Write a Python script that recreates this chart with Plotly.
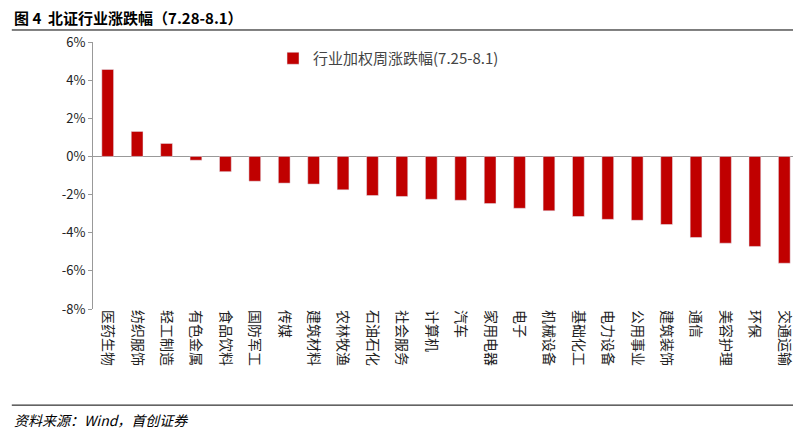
import plotly.graph_objs as go

# 行业周涨跌幅 (%)
industries = ['医药生物', '纺织服饰', '轻工制造', '有色金属', '食品饮料', '国防军工', '传媒',
              '建筑材料', '农林牧渔', '石油石化', '社会服务', '计算机', '汽车', '家用电器',
              '电子', '机械设备', '基础化工', '电力设备', '公用事业', '建筑装饰', '通信',
              '美容护理', '环保', '交通运输']
returns = [4.56, 1.31, 0.68, -0.2, -0.8, -1.3, -1.4, -1.45, -1.75, -2.05, -2.1, -2.25,
           -2.3, -2.47, -2.72, -2.85, -3.15, -3.3, -3.35, -3.57, -4.25, -4.55, -4.72, -5.6]
y_ticks = [6, 4, 2, 0, -2, -4, -6, -8]

FONT = 'Noto Sans CJK SC'
RED = '#C00000'

fig = go.Figure()
fig.add_trace(go.Bar(
    x=industries, y=returns, marker_color=RED, width=0.4,
    name='行业加权周涨跌幅(7.25-8.1)'
))

fig.update_layout(
    width=801, height=436,
    margin=dict(l=85, r=10, t=34, b=135),
    plot_bgcolor='white', paper_bgcolor='white',
    font=dict(family=FONT, size=13, color='#333'),
    showlegend=True,
    legend=dict(x=0.255, y=1.0, xanchor='left', yanchor='top',
                font=dict(size=15, color='#444'), bgcolor='rgba(0,0,0,0)'),
    xaxis=dict(showgrid=False, showline=False, ticks='', tickangle=90,
               tickfont=dict(size=14, color='#222')),
    yaxis=dict(range=[-8, 6], tickvals=y_ticks,
               ticktext=[f'{v}%' for v in y_ticks],
               showgrid=False, zeroline=True, zerolinecolor='#999', zerolinewidth=1,
               showline=True, linecolor='#999', ticks='outside', ticklen=4,
               tickcolor='#999', tickfont=dict(size=13, color='#222')),
)

fig.add_annotation(xref='paper', yref='paper', x=-0.115, y=1.09, xanchor='left',
                   yanchor='middle', showarrow=False,
                   text='<b>图 4  北证行业涨跌幅（7.28-8.1）</b>',
                   font=dict(family=FONT, size=15, color='#000'))
fig.add_shape(type='line', xref='paper', yref='paper', x0=-0.115, x1=1.0,
              y0=1.045, y1=1.045, line=dict(color='#000', width=1))
fig.add_shape(type='line', xref='paper', yref='paper', x0=-0.115, x1=1.0,
              y0=-0.36, y1=-0.36, line=dict(color='#000', width=1))
fig.add_annotation(xref='paper', yref='paper', x=-0.115, y=-0.416, xanchor='left',
                   yanchor='middle', showarrow=False,
                   text='<i>资料来源：Wind，首创证券</i>',
                   font=dict(family=FONT, size=14, color='#000'))

fig.write_html('out.html')
